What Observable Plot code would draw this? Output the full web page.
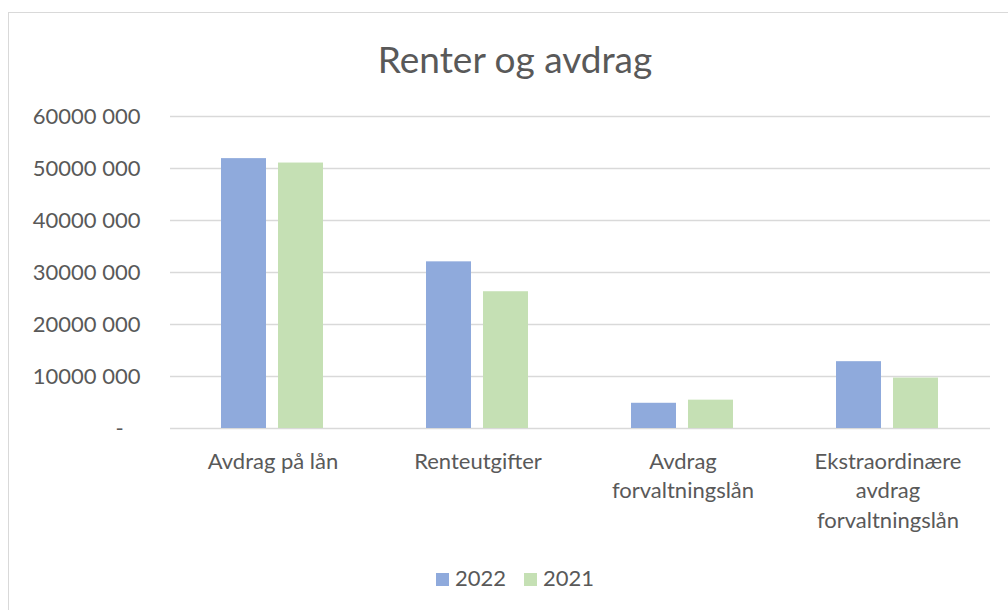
<!DOCTYPE html>
<html><head><meta charset="utf-8">
<script src="https://cdn.jsdelivr.net/npm/d3@7"></script>
<script src="https://cdn.jsdelivr.net/npm/@observablehq/plot@0.6"></script>
<style>
body{margin:0;background:#fff;font-family:Lato,sans-serif;}
#frame{position:relative;width:1008px;height:610px;overflow:hidden;background:#fff;}
#border{position:absolute;left:8px;top:12px;width:1020px;height:620px;border:1px solid #d9d9d9;box-sizing:border-box;}
#title{position:absolute;top:36px;left:8px;width:1014px;text-align:center;font-size:37px;color:#595959;}
#chart{position:absolute;top:0;left:0;}
#legend{position:absolute;top:564px;left:8px;width:1014px;text-align:center;font-size:22px;color:#595959;}
#legend span.sw{display:inline-block;width:13px;height:13px;margin-right:6px;vertical-align:0px;}
#legend span.item{margin:0 9px;}
</style></head>
<body>
<div id="frame">
<div id="border"></div>
<div id="chart"></div>
<div id="title">Renter og avdrag</div>
<div id="legend"></div>
</div>
<script>
const categories = ["Avdrag på lån","Renteutgifter","Avdrag forvaltningslån","Ekstraordinære avdrag forvaltningslån"];
const categoryLabels = ["Avdrag på lån","Renteutgifter","Avdrag\nforvaltningslån","Ekstraordinære\navdrag\nforvaltningslån"];
const years = ["2022","2021"];
const values2022 = [51900000, 32050000, 4850000, 12850000];
const values2021 = [51050000, 26300000, 5450000, 9700000];
const yTicks = [0,10000000,20000000,30000000,40000000,50000000,60000000];
const yTickLabels = ["-\u00a0\u00a0\u00a0","10000 000","20000 000","30000 000","40000 000","50000 000","60000 000"];
const colors = ["#8faadc","#c5e0b4"];

const data = [];
categories.forEach((c,i)=>{
  data.push({category:c, year:"2022", value:values2022[i]});
  data.push({category:c, year:"2021", value:values2021[i]});
});

const chart = Plot.plot({
  width:1008, height:610,
  marginTop:116, marginBottom:182, marginLeft:170, marginRight:18,
  style:{fontFamily:"Lato, sans-serif", fontSize:"22px", color:"#595959", background:"transparent"},
  fx:{domain:categories, padding:0, label:null, axis:null},
  x:{domain:years, paddingInner:0.207, paddingOuter:0.871, axis:null},
  y:{domain:[0,60000000], axis:null},
  color:{domain:years, range:colors},
  marks:[
    Plot.gridY(yTicks,{stroke:"#d9d9d9", strokeOpacity:1, strokeWidth:1.3}),
    Plot.axisY({ticks:yTicks, tickFormat:d=>yTickLabels[yTicks.indexOf(d)], tickSize:0, tickPadding:30, fontSize:22, label:null, fill:"#595959"}),
    Plot.barY(data,{fx:"category", x:"year", y:"value", fill:"year"}),
    Plot.axisFx({anchor:"bottom", tickFormat:d=>categoryLabels[categories.indexOf(d)], tickSize:0, tickPadding:19, lineHeight:1.35, fontSize:22, label:null, fill:"#595959"})
  ]
});
document.getElementById("chart").appendChild(chart);

const legend = document.getElementById("legend");
years.forEach((y,i)=>{
  const item = document.createElement("span");
  item.className="item";
  const sw = document.createElement("span");
  sw.className="sw"; sw.style.background=colors[i];
  item.appendChild(sw);
  item.appendChild(document.createTextNode(y));
  legend.appendChild(item);
});
</script>
</body></html>
